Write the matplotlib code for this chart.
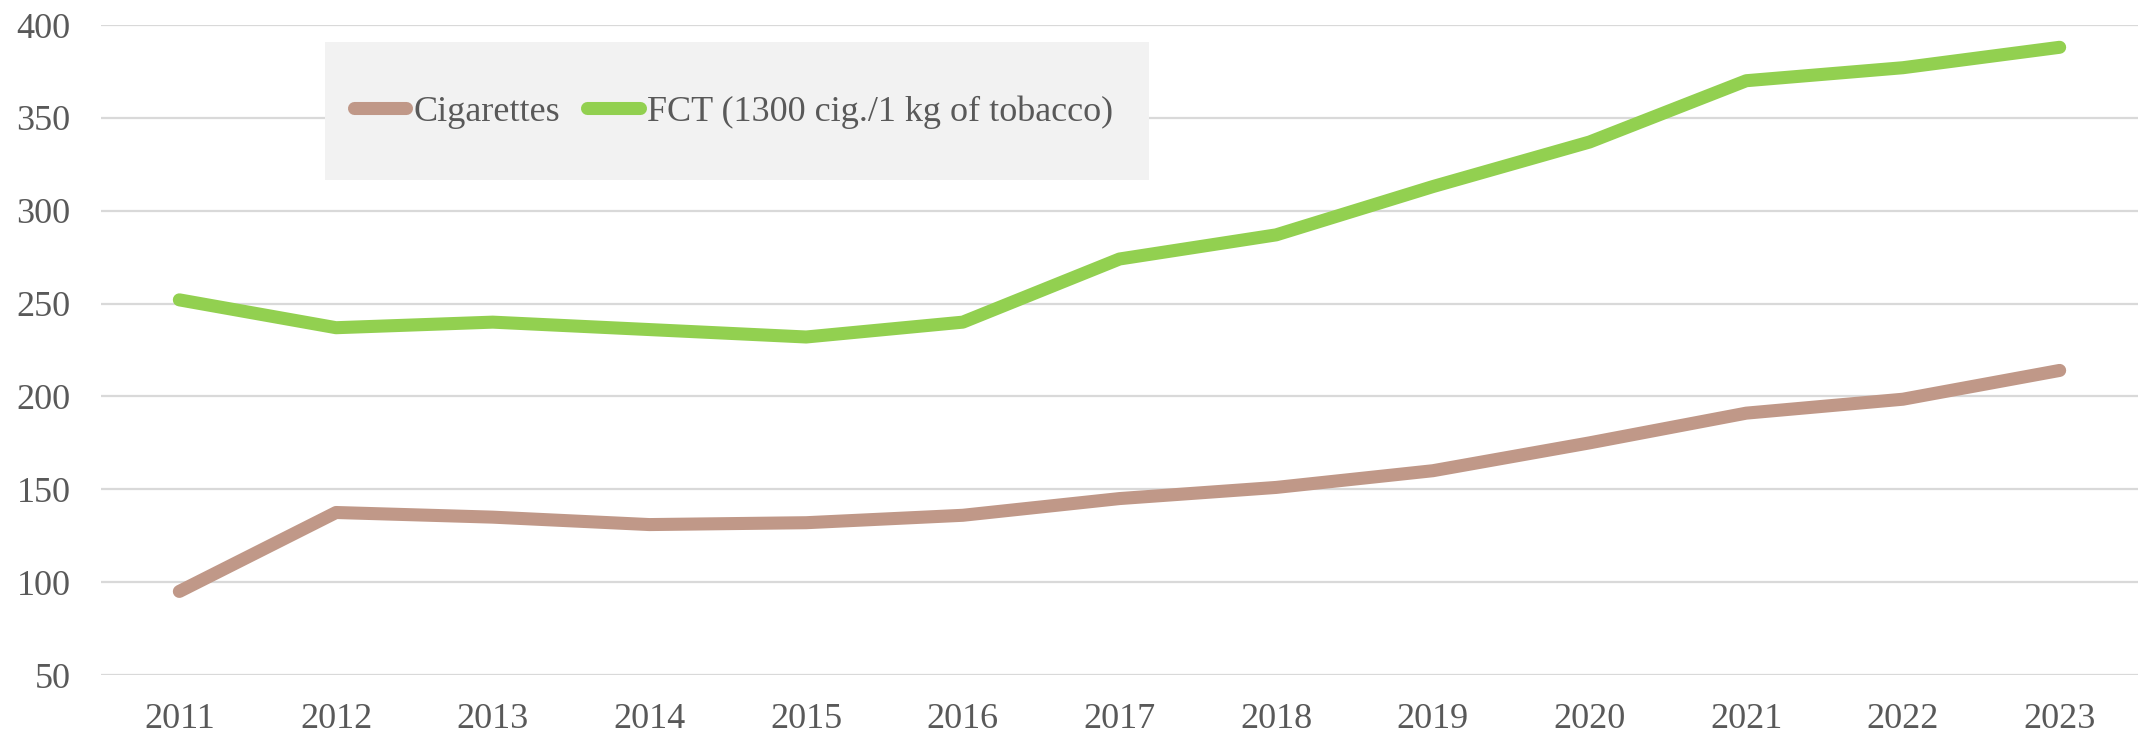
import matplotlib.pyplot as plt
from matplotlib.patches import Rectangle

years = ['2011', '2012', '2013', '2014', '2015', '2016', '2017',
         '2018', '2019', '2020', '2021', '2022', '2023']
cigarettes = [95, 137.5, 135, 131, 132, 136, 145, 151, 160, 175, 191, 198.5, 214]
fct = [252, 237, 240, 236, 232, 240, 274, 287, 313, 337, 370, 377, 388]
y_ticks = [50, 100, 150, 200, 250, 300, 350, 400]

plt.rcParams['font.family'] = ['Liberation Serif', 'DejaVu Serif']
text_color = '#595959'

fig = plt.figure(figsize=(21.44, 7.36), dpi=100)
ax = fig.add_axes([101 / 2144, 1 - 675 / 736, 2037 / 2144, 650 / 736])

x = range(len(years))
ax.plot(x, cigarettes, color='#C09888', lw=9.4, solid_capstyle='round',
        solid_joinstyle='round', label='Cigarettes', zorder=3)
ax.plot(x, fct, color='#92D050', lw=9.4, solid_capstyle='round',
        solid_joinstyle='round', label='FCT (1300 cig./1 kg of tobacco)', zorder=3)

ax.set_xlim(-0.5, len(years) - 0.5)
ax.set_ylim(50, 400)
ax.set_xticks(list(x))
ax.set_xticklabels(years)
ax.set_yticks(y_ticks)
ax.grid(axis='y', color='#D9D9D9', lw=1.6)
ax.set_axisbelow(True)
for s in ax.spines.values():
    s.set_visible(False)
ax.tick_params(axis='both', length=0, labelsize=26, colors=text_color)
ax.tick_params(axis='x', pad=20)
ax.tick_params(axis='y', pad=22)

# legend box
fig.patches.append(Rectangle((325 / 2144, 1 - 180 / 736), 824 / 2144, 138 / 736,
                             transform=fig.transFigure, facecolor='#F2F2F2',
                             edgecolor='none', zorder=1))
leg = fig.legend(loc='center left', bbox_to_anchor=(354 / 2144, 1 - 112 / 736),
                 ncol=2, frameon=False, fontsize=26, handlelength=1.45,
                 handletextpad=0.2, columnspacing=0.75, borderpad=0, borderaxespad=0)
for t in leg.get_texts():
    t.set_color(text_color)

plt.savefig('out.png', dpi=100)
